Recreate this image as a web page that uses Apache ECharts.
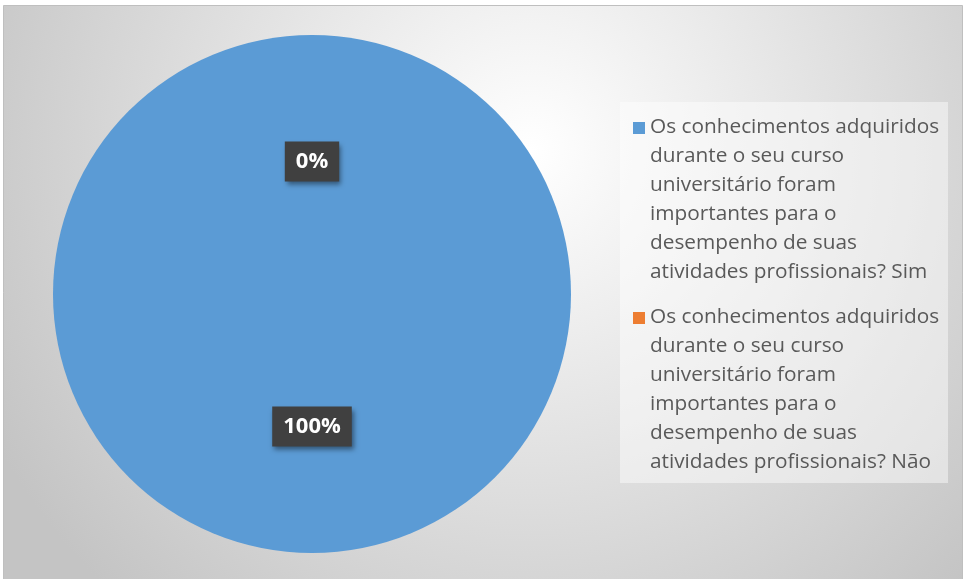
<!DOCTYPE html>
<html>
<head>
<meta charset="utf-8">
<script src="https://cdn.jsdelivr.net/npm/echarts@6/dist/echarts.min.js"></script>
<style>
  html, body { margin: 0; padding: 0; background: #fff; }
  #chart { width: 965px; height: 579px; }
</style>
</head>
<body>
<div id="chart"></div>
<script>
  // dados do gráfico
  var pergunta = 'Os conhecimentos adquiridos durante o seu curso universitário foram importantes para o desempenho de suas atividades profissionais?';
  var categorias = [pergunta + ' Sim', pergunta + ' Não'];
  var valores = [100, 0];
  var cores = ['#5B9BD5', '#ED7D31'];
  // quebras de linha da legenda, como no original
  var legendaTextos = [
    'Os conhecimentos adquiridos\ndurante o seu curso\nuniversitário foram\nimportantes para o\ndesempenho de suas\natividades profissionais? Sim',
    'Os conhecimentos adquiridos\ndurante o seu curso\nuniversitário foram\nimportantes para o\ndesempenho de suas\natividades profissionais? Não'
  ];

  var total = valores.reduce(function(a, b) { return a + b; }, 0);

  var chart = echarts.init(document.getElementById('chart'));
  var option = {
    backgroundColor: '#fff',
    animation: false,
    color: cores,
    graphic: [{
      type: 'rect',
      z: -10,
      silent: true,
      shape: { x: 3.5, y: 5.5, width: 959, height: 580 },
      style: {
        fill: {
          type: 'radial', x: 0.55, y: 0.25, r: 1.05,
          colorStops: [
            { offset: 0, color: '#ffffff' },
            { offset: 1, color: '#c4c4c4' }
          ]
        },
        stroke: '#bfbfbf',
        lineWidth: 1
      }
    }, {
      // caixa da legenda
      type: 'rect',
      z: -5,
      silent: true,
      shape: { x: 620, y: 102, width: 328, height: 381 },
      style: { fill: 'rgba(255,255,255,0.45)' }
    }],
    legend: {
      orient: 'vertical',
      left: 620,
      top: 103,
      padding: [10, 8, 6, 13],
      itemGap: 16,
      itemWidth: 12,
      itemHeight: 174,
      itemStyle: { borderWidth: 0 },
      // quadrado alinhado com a primeira linha
      icon: 'path://M0,0h0 M0,9h12v12h-12z M0,174h0',
      data: categorias,
      formatter: function(name) {
        return legendaTextos[categorias.indexOf(name)];
      },
      textStyle: {
        fontFamily: 'Open Sans',
        fontSize: 20.8,
        lineHeight: 29,
        color: '#595959'
      }
    },
    series: [{
      type: 'pie',
      center: [312, 294],
      radius: 259,
      startAngle: 90,
      clockwise: true,
      avoidLabelOverlap: false,
      emphasis: { disabled: true },
      itemStyle: { borderWidth: 0 },
      label: {
        show: true,
        position: 'inside',
        formatter: function(p) {
          return Math.round(p.value / total * 100) + '%';
        },
        color: '#fff',
        fontFamily: 'Open Sans',
        fontWeight: 'bold',
        fontSize: 22,
        backgroundColor: '#404040',
        padding: [10, 11, 8, 11],
        shadowColor: 'rgba(0,0,0,0.45)',
        shadowBlur: 5,
        shadowOffsetX: 2,
        shadowOffsetY: 3
      },
      labelLine: { show: false },
      data: categorias.map(function(c, i) {
        return { name: c, value: valores[i] };
      })
    }]
  };
  chart.setOption(option);
</script>
</body>
</html>
